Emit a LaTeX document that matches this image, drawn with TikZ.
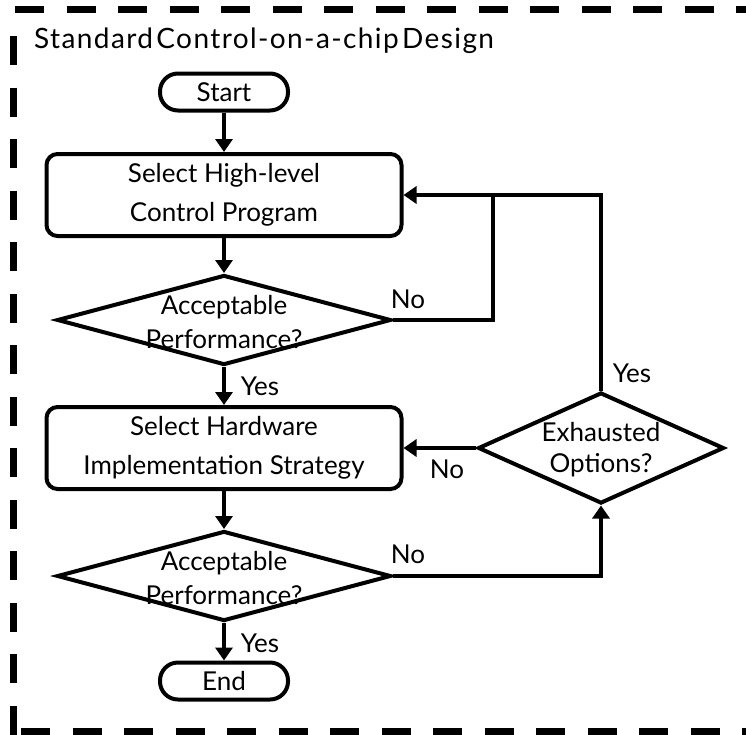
\documentclass[tikz,border=0pt]{standalone}
\usepackage{fontspec}
\setmainfont{Lato}
\newfontfamily\headingfont[LetterSpace=5]{Lato}
\usetikzlibrary{shapes.geometric,arrows.meta}
\begin{document}
\begin{tikzpicture}[x=1pt,y=-1pt,
  every node/.style={font=\fontsize{26}{39}\selectfont},
  process/.style={draw, line width=4pt, rounded corners=11pt, minimum width=355pt,
    minimum height=82pt, align=center, inner sep=0pt},
  terminal/.style={draw, line width=4pt, rounded corners=18pt, minimum width=128pt,
    minimum height=37pt, inner sep=0pt},
  decision/.style={draw, diamond, line width=4pt, inner sep=0pt},
  qtext/.style={align=center, inner sep=0pt, font=\fontsize{26}{34}\selectfont},
  lbl/.style={inner sep=0pt, anchor=base},
  heading/.style={anchor=base west, inner sep=0pt,
    font={\headingfont\fontsize{28}{34}\selectfont\spaceskip=0.12em\relax}},
  flow/.style={line width=4pt, -{Triangle[length=13pt,width=17pt]}},
  link/.style={line width=4pt},
  frame/.style={line width=7pt, dash pattern=on 29pt off 22.5pt}
]
\useasboundingbox (0,0) rectangle (746,734);

% dashed enclosure, open to the right
\begin{scope}
  \clip (0,0) rectangle (746,734);
  \draw[frame] (15,9.5) -- (770,9.5);
  \draw[frame] (13.5,36) -- (13.5,760);
  \draw[frame] (21,731) -- (770,731);
\end{scope}

\node[heading] (title) at (34,48) {Standard Control-on-a-chip Design};

% main column
\node[terminal] (start) at (224,92) {Start};
\node[process] (sel) at (224,195) {Select High-level\\Control Program};
\node[decision, minimum width=334pt, minimum height=90pt] (acc1) at (224,320) {};
\node[qtext] (acc1t) at (224,322) {Acceptable\\Performance?};
\node[process] (hw) at (224,448) {Select Hardware\\Implementation Strategy};
\node[decision, minimum width=334pt, minimum height=90pt] (acc2) at (224,576) {};
\node[qtext] (acc2t) at (224,578) {Acceptable\\Performance?};
\node[terminal] (end) at (224,681) {End};

% side decision
\node[decision, minimum width=246pt, minimum height=111pt] (exh) at (601,448) {};
\node[qtext, font=\fontsize{26}{31}\selectfont] (exht) at (601,450) {Exhausted\\Options?};

% branch labels
\node[lbl] (no1) at (408,308) {No};
\node[lbl] (yes1) at (260,395) {Yes};
\node[lbl] (yes3) at (632,382) {Yes};
\node[lbl] (no3) at (447,478) {No};
\node[lbl] (no2) at (408,563) {No};
\node[lbl] (yes2) at (260,652) {Yes};

% connectors
\draw[flow] (start) -- (sel);
\draw[flow] (sel) -- (acc1);
\draw[flow] (acc1) -- (hw);
\draw[flow] (hw) -- (acc2);
\draw[flow] (acc2) -- (end);
\coordinate (jn) at (493,195);
\draw[link] (acc1.east) -| (jn);
\draw[flow] (exh.north) |- (sel.east);
\draw[flow] (exh.west) -- (hw.east);
\draw[flow] (acc2.east) -| (exh.south);
\end{tikzpicture}
\end{document}
